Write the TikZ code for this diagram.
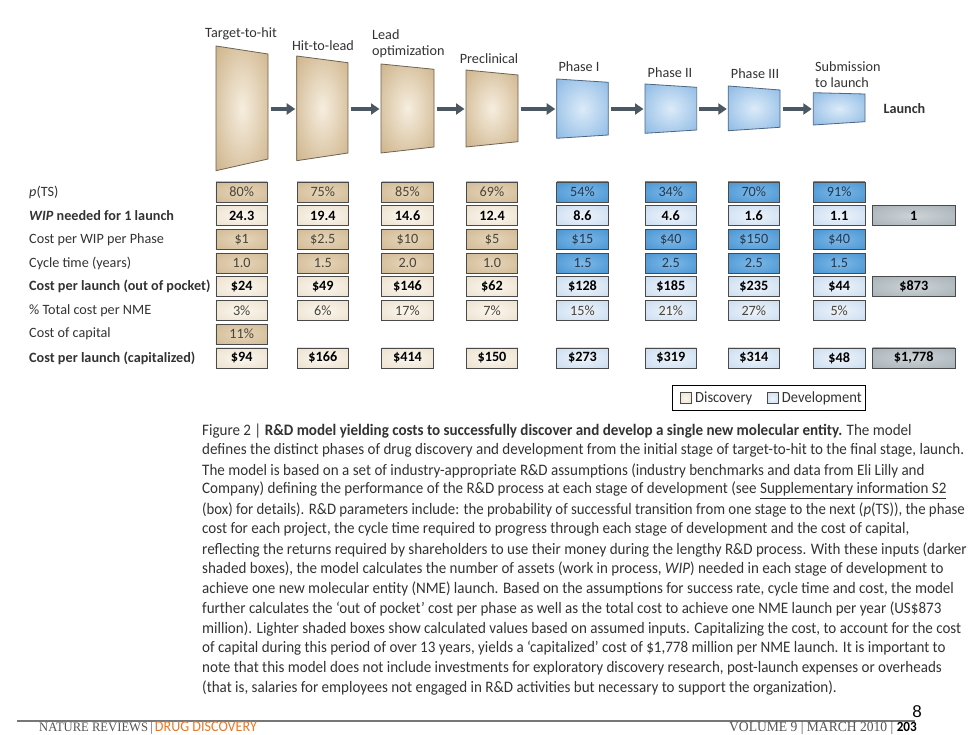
\documentclass[tikz,border=0pt]{standalone}
\usepackage{fontspec}
\setmainfont{Carlito}
\newfontfamily\capfont[FakeStretch=0.94]{Carlito}
\newfontfamily\capfontn[FakeStretch=0.925]{Carlito}
\newfontfamily\serifn[FakeStretch=0.97]{Liberation Serif}
\newfontfamily\arialf{Liberation Sans}
\usetikzlibrary{arrows.meta}
\definecolor{tanIn}{HTML}{F6EEDF}
\definecolor{tanOut}{HTML}{C3A474}
\definecolor{bluIn}{HTML}{DCEBF8}
\definecolor{bluOut}{HTML}{78ADE0}
\definecolor{trapTanB}{HTML}{6E6253}
\definecolor{trapBluB}{HTML}{4E6684}
\definecolor{arrowc}{HTML}{4B5861}
\definecolor{cTanIn}{HTML}{E6D6BA}
\definecolor{cTanOut}{HTML}{C9AE86}
\definecolor{cCreIn}{HTML}{FBF7F0}
\definecolor{cCreOut}{HTML}{E6D8BF}
\definecolor{cBluIn}{HTML}{7DB9E8}
\definecolor{cBluOut}{HTML}{3586CA}
\definecolor{cLbIn}{HTML}{EEF4FB}
\definecolor{cLbOut}{HTML}{BCD3EC}
\definecolor{cGrIn}{HTML}{CDD4D8}
\definecolor{cGrOut}{HTML}{98A3A9}
\definecolor{cellB}{HTML}{4A4A4A}
\definecolor{txt}{HTML}{333333}
\definecolor{intxt}{HTML}{4A4438}
\definecolor{bintxt}{HTML}{24384F}
\definecolor{orng}{HTML}{E8792B}
\definecolor{footg}{HTML}{555555}
\pgfdeclareradialshading{tanrad}{\pgfpoint{0bp}{0bp}}{color(0bp)=(tanIn); color(45bp)=(tanOut); color(50bp)=(tanOut)}
\pgfdeclareradialshading{blurad}{\pgfpoint{0bp}{0bp}}{color(0bp)=(bluIn); color(45bp)=(bluOut); color(50bp)=(bluOut)}
\pgfdeclareradialshading{tanbox}{\pgfpoint{0bp}{0bp}}{color(0bp)=(cTanIn); color(50bp)=(cTanOut)}
\pgfdeclareradialshading{crebox}{\pgfpoint{0bp}{0bp}}{color(0bp)=(cCreIn); color(50bp)=(cCreOut)}
\pgfdeclareradialshading{blubox}{\pgfpoint{0bp}{0bp}}{color(0bp)=(cBluIn); color(50bp)=(cBluOut)}
\pgfdeclareradialshading{lbbox}{\pgfpoint{0bp}{0bp}}{color(0bp)=(cLbIn); color(50bp)=(cLbOut)}
\pgfdeclareradialshading{grbox}{\pgfpoint{0bp}{0bp}}{color(0bp)=(cGrIn); color(50bp)=(cGrOut)}
\begin{document}
\begin{tikzpicture}[x=1pt,y=-1pt,
  traptan/.style={draw=trapTanB, line width=0.8pt, shade, shading=tanrad},
  trapblu/.style={draw=trapBluB, line width=0.8pt, shade, shading=blurad},
  hdr/.style={text=txt, font=\fontsize{14.2}{15.6}\selectfont, inner sep=0pt},
  flow/.style={draw=arrowc, line width=3.8pt, -{Triangle[length=8.5pt,width=11pt]}, shorten <=2.5pt, shorten >=1.5pt},
  rowlab/.style={anchor=west, text=txt, font=\fontsize{14.2}{15}\selectfont, inner sep=0pt},
  bf/.style={font=\fontsize{14.2}{15}\selectfont\bfseries},
  cell/.style={draw=cellB, line width=0.7pt, minimum width=51.5pt, minimum height=20pt, inner sep=0pt, shade, font=\fontsize{14.2}{15}\selectfont},
  tanin/.style={cell, shading=tanbox, text=intxt},
  crec/.style={cell, shading=crebox, text=black},
  bluin/.style={cell, shading=blubox, text=bintxt},
  lbc/.style={cell, shading=lbbox, text=black},
  grc/.style={cell, shading=grbox, text=black, minimum width=82.3pt, bf},
  capl/.style={anchor=west, inner sep=0pt, text=txt, font=\capfont\fontsize{16}{18}\selectfont},
  swatch/.style={draw=cellB, line width=0.6pt, minimum width=11pt, minimum height=11pt, inner sep=0pt}
]
\useasboundingbox (0,0) rectangle (980,735);
\fill[white] (0,0) rectangle (980,735);

% ---------- stage trapezoids ----------
\path[traptan] (216,46) -- (268,54) -- (268,159) -- (216,170.7) -- cycle;
\path[traptan] (296.7,56) -- (348,62.7) -- (348,153) -- (296.7,160.7) -- cycle;
\path[traptan] (381,64) -- (434,69.3) -- (434,147) -- (381,153) -- cycle;
\path[traptan] (466,70) -- (518,75) -- (518,141.7) -- (466,147) -- cycle;
\path[trapblu] (556.7,79) -- (608.3,82.3) -- (608.3,135) -- (556.7,138.3) -- cycle;
\path[trapblu] (645,84) -- (696.7,87.3) -- (696.7,130) -- (645,133.3) -- cycle;
\path[trapblu] (728.3,86) -- (780,90) -- (780,127.3) -- (728.3,130.7) -- cycle;
\path[trapblu] (813.3,92.7) -- (865,94) -- (865,121.7) -- (813.3,125) -- cycle;

\coordinate (T1R) at (268,109);   \coordinate (T2L) at (296.7,109);
\coordinate (T2R) at (348,109);   \coordinate (T3L) at (381,109);
\coordinate (T3R) at (434,109);   \coordinate (T4L) at (466,109);
\coordinate (T4R) at (518,109);   \coordinate (P1L) at (556.7,109);
\coordinate (P1R) at (608.3,109); \coordinate (P2L) at (645,109);
\coordinate (P2R) at (696.7,109); \coordinate (P3L) at (728.3,109);
\coordinate (P3R) at (780,109);   \coordinate (SL) at (813.3,109);
\draw[flow] (T1R) -- (T2L);
\draw[flow] (T2R) -- (T3L);
\draw[flow] (T3R) -- (T4L);
\draw[flow] (T4R) -- (P1L);
\draw[flow] (P1R) -- (P2L);
\draw[flow] (P2R) -- (P3L);
\draw[flow] (P3R) -- (SL);

\node[hdr] (h1) at (241,34) {Target-to-hit};
\node[hdr] (h2) at (323,46) {Hit-to-lead};
\node[hdr, anchor=west, align=left] (h3) at (372,44) {Lead\\optimization};
\node[hdr] (h4) at (489,58.5) {Preclinical};
\node[hdr] (h5) at (579,66.7) {Phase I};
\node[hdr] (h6) at (670,72.3) {Phase II};
\node[hdr] (h7) at (755,73.3) {Phase III};
\node[hdr, anchor=west, align=left] (h8) at (815,74.5) {Submission\\to launch};
\node[hdr, anchor=west, font=\fontsize{14.2}{15}\selectfont\bfseries] (h9) at (883.3,109) {Launch};

% ---------- row labels ----------
\node[rowlab] (l1) at (29,192) {\textit{p}(TS)};
\node[rowlab, bf] (l2) at (29,215.7) {\textit{WIP} needed for 1 launch};
\node[rowlab] (l3) at (29,239.4) {Cost per WIP per Phase};
\node[rowlab] (l4) at (29,263.1) {Cycle time (years)};
\node[rowlab, bf] (l5) at (29,286.8) {Cost per launch (out of pocket)};
\node[rowlab] (l6) at (29,310.5) {\% Total cost per NME};
\node[rowlab] (l7) at (29,334.2) {Cost of capital};
\node[rowlab, bf] (l8) at (29,357.9) {Cost per launch (capitalized)};

% ---------- table cells ----------
\foreach \v/\x [count=\i] in {80\%/241.7, 75\%/322.8, 85\%/407.5, 69\%/492}
  \node[tanin] (a\i) at (\x,192) {\v};
\foreach \v/\x [count=\i from 5] in {54\%/582.5, 34\%/670.8, 70\%/753.8, 91\%/839.2}
  \node[bluin] (a\i) at (\x,192) {\v};
\foreach \v/\x [count=\i] in {24.3/241.7, 19.4/322.8, 14.6/407.5, 12.4/492}
  \node[crec, bf] (b\i) at (\x,215.7) {\v};
\foreach \v/\x [count=\i from 5] in {8.6/582.5, 4.6/670.8, 1.6/753.8, 1.1/839.2}
  \node[lbc, bf] (b\i) at (\x,215.7) {\v};
\node[grc] (b9) at (913.8,215.7) {1};
\foreach \v/\x [count=\i] in {\$1/241.7, \$2.5/322.8, \$10/407.5, \$5/492}
  \node[tanin] (c\i) at (\x,239.4) {\v};
\foreach \v/\x [count=\i from 5] in {\$15/582.5, \$40/670.8, \$150/753.8, \$40/839.2}
  \node[bluin] (c\i) at (\x,239.4) {\v};
\foreach \v/\x [count=\i] in {1.0/241.7, 1.5/322.8, 2.0/407.5, 1.0/492}
  \node[tanin] (d\i) at (\x,263.1) {\v};
\foreach \v/\x [count=\i from 5] in {1.5/582.5, 2.5/670.8, 2.5/753.8, 1.5/839.2}
  \node[bluin] (d\i) at (\x,263.1) {\v};
\foreach \v/\x [count=\i] in {\$24/241.7, \$49/322.8, \$146/407.5, \$62/492}
  \node[crec, bf] (e\i) at (\x,286.8) {\v};
\foreach \v/\x [count=\i from 5] in {\$128/582.5, \$185/670.8, \$235/753.8, \$44/839.2}
  \node[lbc, bf] (e\i) at (\x,286.8) {\v};
\node[grc] (e9) at (913.8,286.8) {\$873};
\foreach \v/\x [count=\i] in {3\%/241.7, 6\%/322.8, 17\%/407.5, 7\%/492}
  \node[crec, text=intxt] (f\i) at (\x,310.5) {\v};
\foreach \v/\x [count=\i from 5] in {15\%/582.5, 21\%/670.8, 27\%/753.8, 5\%/839.2}
  \node[lbc, text=intxt] (f\i) at (\x,310.5) {\v};
\node[tanin] (g1) at (241.7,334.2) {11\%};
\foreach \v/\x [count=\i] in {\$94/241.7, \$166/322.8, \$414/407.5, \$150/492}
  \node[crec, bf] (k\i) at (\x,357.9) {\v};
\foreach \v/\x [count=\i from 5] in {\$273/582.5, \$319/670.8, \$314/753.8, \$48/839.2}
  \node[lbc, bf] (k\i) at (\x,357.9) {\v};
\node[grc] (k9) at (913.8,357.9) {\$1,778};

% ---------- legend ----------
\node[draw=black, line width=0.6pt, minimum width=193.4pt, minimum height=25.7pt, inner sep=0pt] (leg) at (769,397.9) {};
\node[swatch, shade, shading=crebox] (sw1) at (685.5,398.2) {};
\node[anchor=west, inner sep=0pt, text=txt, font=\capfont\fontsize{15.5}{16}\selectfont] (lt1) at (695,398) {Discovery};
\node[swatch, shade, shading=lbbox] (sw2) at (772.7,398.2) {};
\node[anchor=west, inner sep=0pt, text=txt, font=\capfont\fontsize{15.5}{16}\selectfont] (lt2) at (781.7,398) {Development};

% ---------- caption ----------
\node[capl] (c01) at (202,431.0) {Figure 2 | \textbf{R\&D model yielding costs to successfully discover and develop a single new molecular entity.} The model};
\node[capl] (c02) at (202,450.8) {defines the distinct phases of drug discovery and development from the initial stage of target-to-hit to the final stage, launch.};
\node[capl] (c03) at (202,470.5) {The model is based on a set of industry-appropriate R\&D assumptions (industry benchmarks and data from Eli Lilly and};
\node[capl] (c04) at (202,490.3) {Company) defining the performance of the R\&D process at each stage of development (see \underline{Supplementary information S2}};
\node[capl, font=\capfontn\fontsize{16}{18}\selectfont] (c05) at (202,510.1) {(box) for details). R\&D parameters include: the probability of successful transition from one stage to the next (\textit{p}(TS)), the phase};
\node[capl] (c06) at (202,529.8) {cost for each project, the cycle time required to progress through each stage of development and the cost of capital,};
\node[capl] (c07) at (202,549.6) {reflecting the returns required by shareholders to use their money during the lengthy R\&D process. With these inputs (darker};
\node[capl] (c08) at (202,569.4) {shaded boxes), the model calculates the number of assets (work in process, \textit{WIP}) needed in each stage of development to};
\node[capl] (c09) at (202,589.2) {achieve one new molecular entity (NME) launch. Based on the assumptions for success rate, cycle time and cost, the model};
\node[capl] (c10) at (202,608.9) {further calculates the ‘out of pocket’ cost per phase as well as the total cost to achieve one NME launch per year (US\$873};
\node[capl] (c11) at (202,628.7) {million). Lighter shaded boxes show calculated values based on assumed inputs. Capitalizing the cost, to account for the cost};
\node[capl] (c12) at (202,648.5) {of capital during this period of over 13 years, yields a ‘capitalized’ cost of \$1,778 million per NME launch. It is important to};
\node[capl] (c13) at (202,668.2) {note that this model does not include investments for exploratory discovery research, post-launch expenses or overheads};
\node[capl] (c14) at (202,688.0) {(that is, salaries for employees not engaged in R\&D activities but necessary to support the organization).};

% ---------- footer ----------
\node[inner sep=0pt, font=\arialf\fontsize{17}{18}\selectfont] (pg) at (917,712) {8};
\coordinate (ruleL) at (17,721);
\coordinate (ruleR) at (915,721);
\draw[draw=footg!80, line width=1.1pt] (ruleL) -- (ruleR);
\node[anchor=west, inner sep=0pt, font=\serifn\fontsize{13}{14}\selectfont] (fl) at (39,728.5) {\textcolor{footg}{NATURE REVIEWS}\,\textcolor{footg}{|}\,\textcolor{orng}{\capfont\fontsize{15}{16}\selectfont DRUG DISCOVERY}};
\node[anchor=east, inner sep=0pt, font=\serifn\fontsize{14}{15}\selectfont] (fr) at (917,728.5) {\textcolor{footg}{VOLUME 9 | MARCH 2010 |} \textcolor{black}{\capfont\fontsize{14}{15}\selectfont\bfseries 203}};
\end{tikzpicture}
\end{document}
